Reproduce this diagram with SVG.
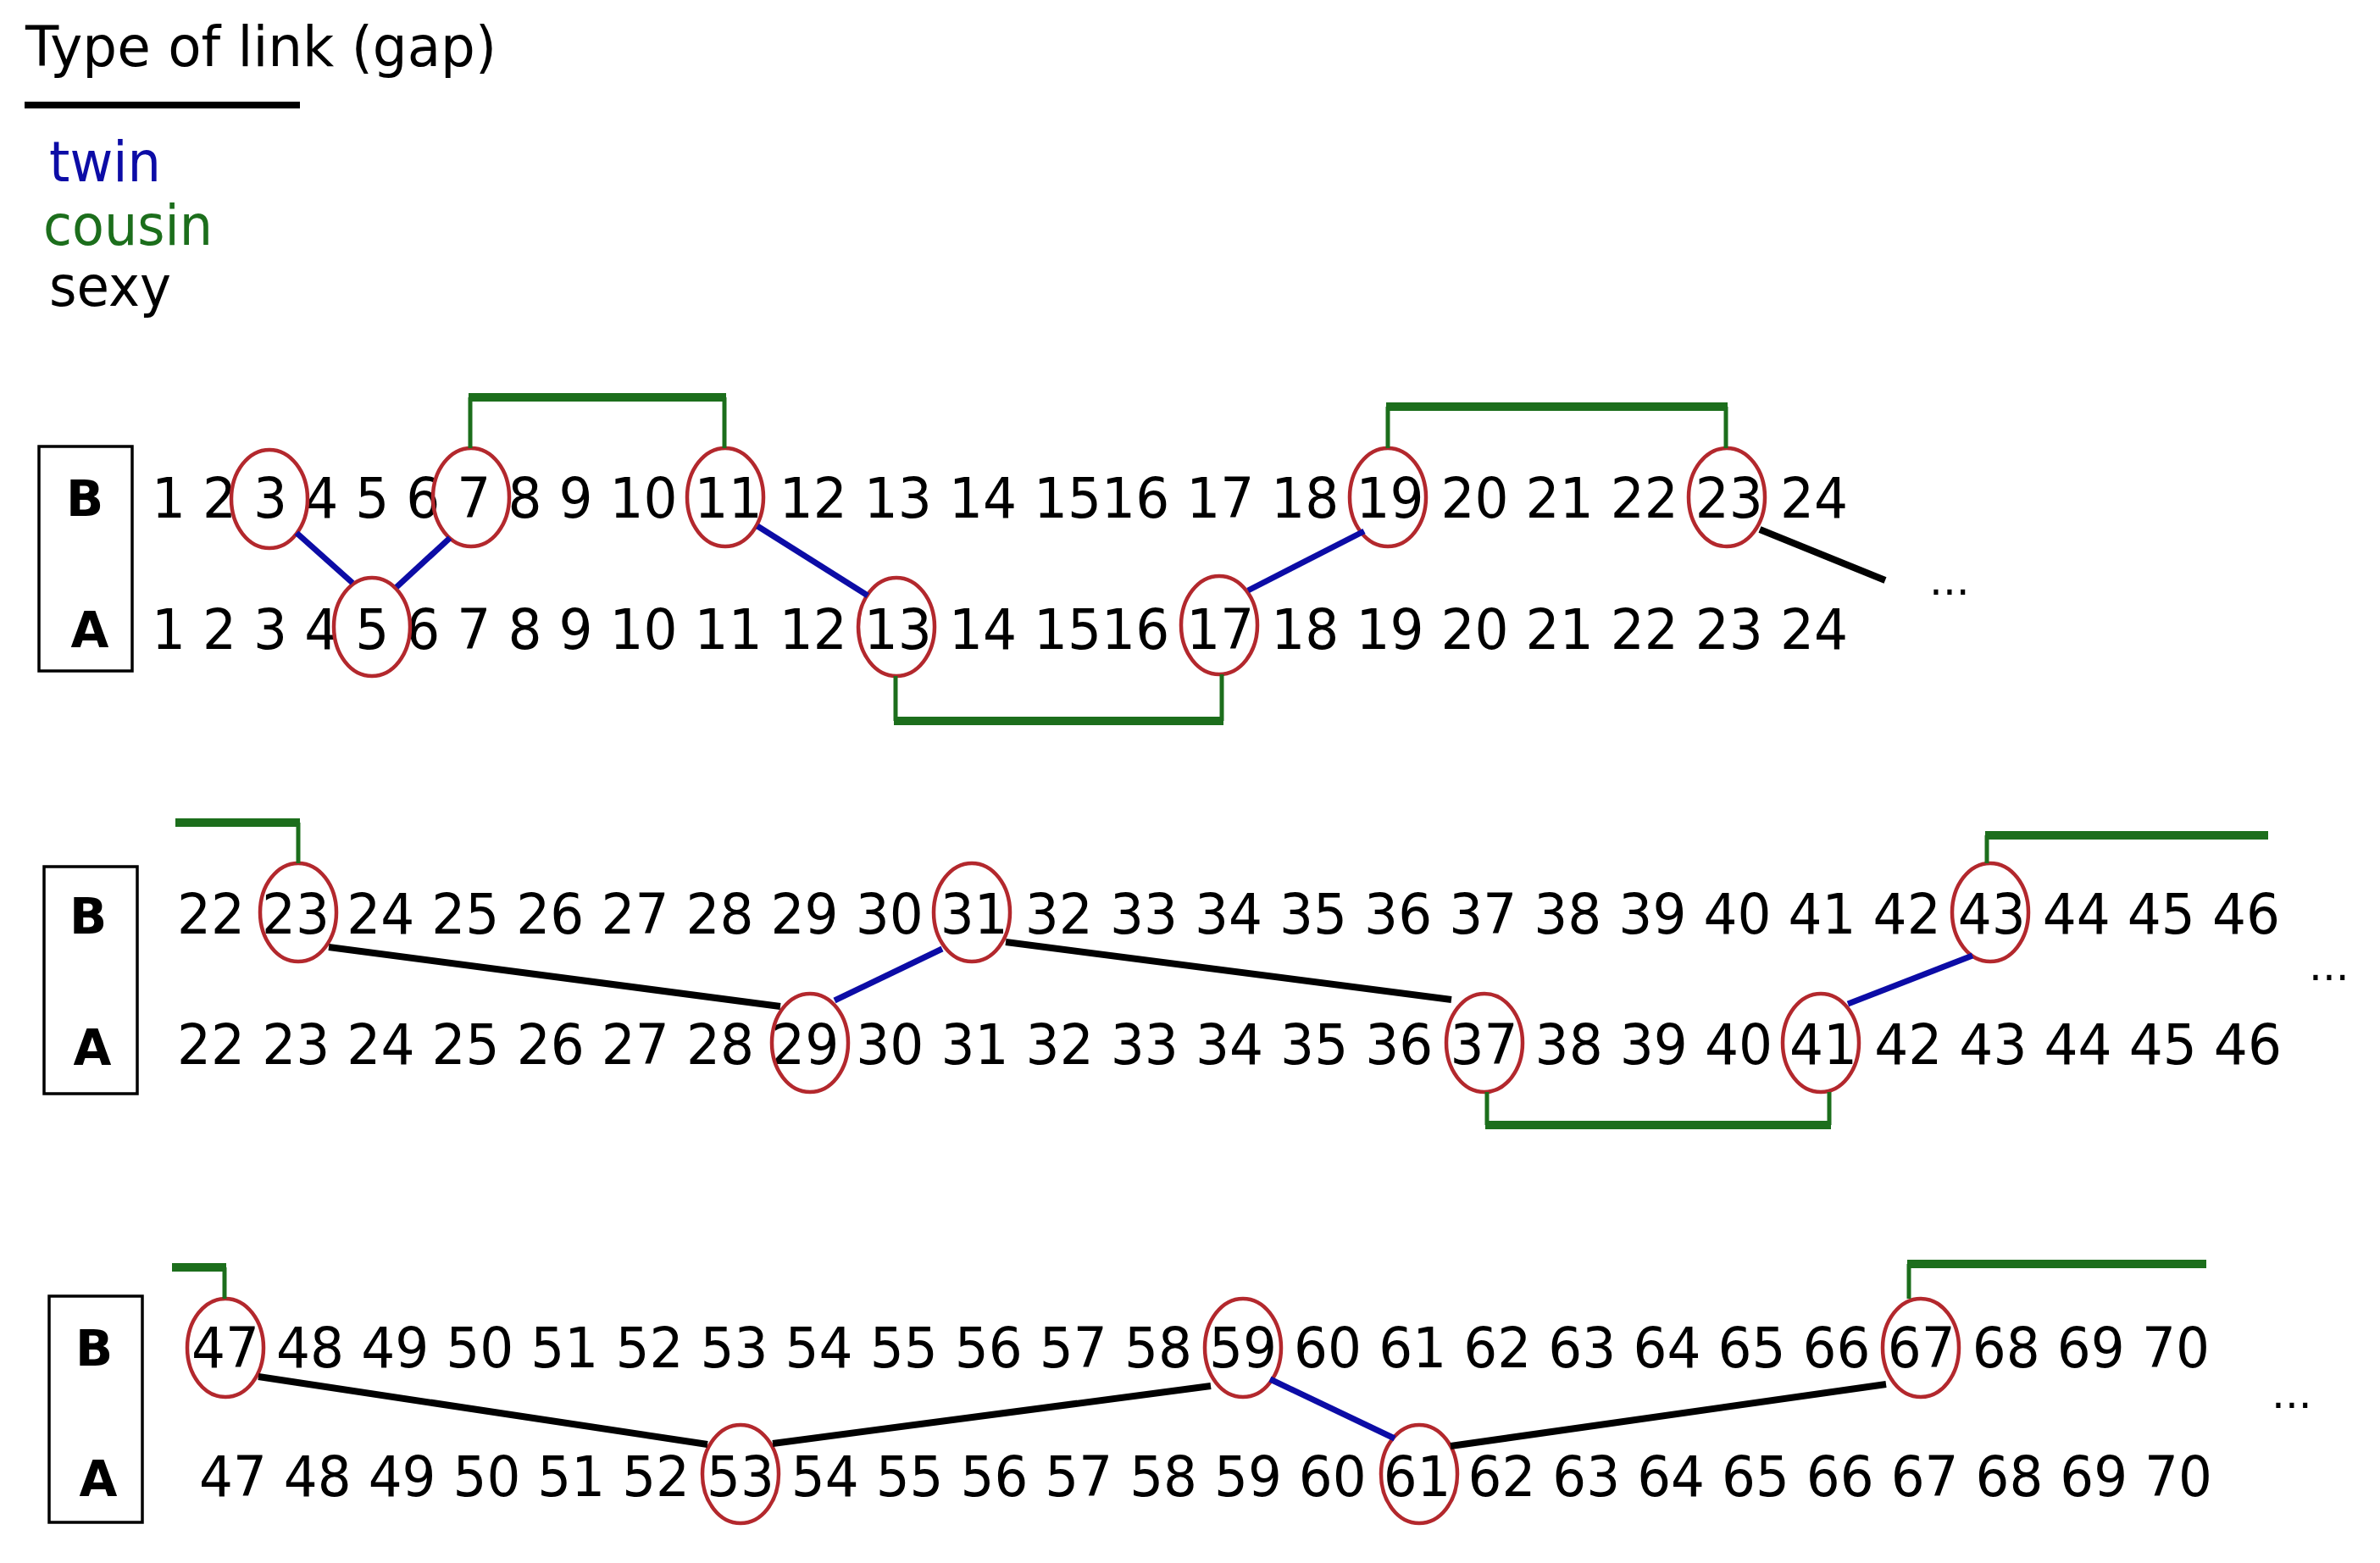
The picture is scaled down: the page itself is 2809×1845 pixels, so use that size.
<svg xmlns="http://www.w3.org/2000/svg" width="2809" height="1845" viewBox="0 0 2809 1845">
<style>
text{font-family:"DejaVu Sans","Liberation Sans",sans-serif;fill:#000}
.num{font-size:66px}
.lbl{font-size:58px;font-weight:bold;text-anchor:middle}
.leg{font-size:66px}
.dots{font-size:50px}
.box{fill:none;stroke:#000;stroke-width:3.5}
.ring{fill:none;stroke:#b3282d;stroke-width:4.5}
.tw{stroke:#0c0ca6;stroke-width:7;fill:none}
.sx{stroke:#000;stroke-width:8;fill:none}
.cv{stroke:#1c6e1c;stroke-width:5;fill:none}
.ch{stroke:#1c6e1c;stroke-width:10;fill:none}
</style>
<rect width="2809" height="1845" fill="#fff"/>
<g id="legend">
<text class="leg" x="30" y="78" textLength="556" lengthAdjust="spacingAndGlyphs">Type of link (gap)</text>
<line x1="29" y1="124" x2="354" y2="124" stroke="#000" stroke-width="8"/>
<text class="leg" x="58" y="214" textLength="132" lengthAdjust="spacingAndGlyphs" style="fill:#0c0ca6">twin</text>
<text class="leg" x="51" y="289" textLength="200" lengthAdjust="spacingAndGlyphs" style="fill:#1c6e1c">cousin</text>
<text class="leg" x="58" y="361" textLength="144" lengthAdjust="spacingAndGlyphs">sexy</text>
</g>
<g id="row1">
<rect class="box" x="46" y="527" width="110" height="265"/>
<text class="lbl" x="100" y="609">B</text>
<text class="lbl" x="106" y="764">A</text>
<text class="num" x="179" y="611" textLength="2002" lengthAdjust="spacingAndGlyphs">1 2 3 4 5 6 7 8 9 10 11 12 13 14 1516 17 18 19 20 21 22 23 24</text>
<text class="num" x="179" y="766" textLength="2002" lengthAdjust="spacingAndGlyphs">1 2 3 4 5 6 7 8 9 10 11 12 13 14 1516 17 18 19 20 21 22 23 24</text>
<text class="dots" x="2277" y="702">...</text>
</g>
<g id="row1-primes">
<ellipse id="b3" class="ring" cx="318" cy="589" rx="45" ry="58"/>
<ellipse id="b7" class="ring" cx="556" cy="587" rx="45" ry="58"/>
<ellipse id="b11" class="ring" cx="856" cy="587" rx="45" ry="58"/>
<ellipse id="b19" class="ring" cx="1638" cy="587" rx="45" ry="58"/>
<ellipse id="b23" class="ring" cx="2038" cy="587" rx="45" ry="58"/>
<ellipse id="a5" class="ring" cx="439" cy="740" rx="45" ry="58"/>
<ellipse id="a13" class="ring" cx="1058" cy="740" rx="45" ry="58"/>
<ellipse id="a17" class="ring" cx="1439" cy="738" rx="45" ry="58"/>
</g>
<g id="row2">
<rect class="box" x="52" y="1023" width="110" height="268"/>
<text class="lbl" x="104" y="1102">B</text>
<text class="lbl" x="109" y="1257">A</text>
<text class="num" x="209" y="1102" textLength="2482" lengthAdjust="spacingAndGlyphs">22 23 24 25 26 27 28 29 30 31 32 33 34 35 36 37 38 39 40 41 42 43 44 45 46</text>
<text class="num" x="209" y="1256" textLength="2484" lengthAdjust="spacingAndGlyphs">22 23 24 25 26 27 28 29 30 31 32 33 34 35 36 37 38 39 40 41 42 43 44 45 46</text>
<text class="dots" x="2725" y="1157">...</text>
</g>
<g id="row2-primes">
<ellipse id="b23r2" class="ring" cx="352" cy="1077" rx="45" ry="58"/>
<ellipse id="b31" class="ring" cx="1147" cy="1077" rx="45" ry="58"/>
<ellipse id="b43" class="ring" cx="2349" cy="1077" rx="45" ry="58"/>
<ellipse id="a29" class="ring" cx="956" cy="1231" rx="45" ry="58"/>
<ellipse id="a37" class="ring" cx="1752" cy="1231" rx="45" ry="58"/>
<ellipse id="a41" class="ring" cx="2149" cy="1231" rx="45" ry="58"/>
</g>
<g id="row3">
<rect class="box" x="58" y="1530" width="110" height="267"/>
<text class="lbl" x="111" y="1612">B</text>
<text class="lbl" x="116" y="1766">A</text>
<text class="num" x="226" y="1614" textLength="2382" lengthAdjust="spacingAndGlyphs">47 48 49 50 51 52 53 54 55 56 57 58 59 60 61 62 63 64 65 66 67 68 69 70</text>
<text class="num" x="235" y="1766" textLength="2376" lengthAdjust="spacingAndGlyphs">47 48 49 50 51 52 53 54 55 56 57 58 59 60 61 62 63 64 65 66 67 68 69 70</text>
<text class="dots" x="2681" y="1662">...</text>
</g>
<g id="row3-primes">
<ellipse id="b47" class="ring" cx="266" cy="1591" rx="45" ry="58"/>
<ellipse id="b59" class="ring" cx="1467" cy="1591" rx="45" ry="58"/>
<ellipse id="b67" class="ring" cx="2267" cy="1591" rx="45" ry="58"/>
<ellipse id="a53" class="ring" cx="874" cy="1740" rx="45" ry="58"/>
<ellipse id="a61" class="ring" cx="1675" cy="1740" rx="45" ry="58"/>
</g>
<g id="connectors">
<path class="cv" d="M555,529 V469 M855,529 V469"/><line class="ch" x1="553" y1="469" x2="857" y2="469"/>
<line class="tw" x1="350" y1="629" x2="416" y2="688"/>
<line class="tw" x1="531" y1="635" x2="468" y2="693"/>
<line class="tw" x1="894" y1="621" x2="1024" y2="703"/>
<path class="cv" d="M1057,798 V851 M1442,796 V851"/><line class="ch" x1="1055" y1="851" x2="1444" y2="851"/>
<line class="tw" x1="1473" y1="697" x2="1610" y2="627"/>
<path class="cv" d="M1638,529 V480 M2037,529 V480"/><line class="ch" x1="1636" y1="480" x2="2039" y2="480"/>
<line class="sx" x1="2077" y1="625" x2="2225" y2="685"/>
<path class="cv" d="M352,1019 V971"/><line class="ch" x1="207" y1="971" x2="354" y2="971"/>
<line class="sx" x1="388" y1="1118" x2="921" y2="1188"/>
<line class="tw" x1="985" y1="1181" x2="1112" y2="1120"/>
<line class="sx" x1="1187" y1="1112" x2="1713" y2="1180"/>
<path class="cv" d="M1755,1289 V1328 M2159,1289 V1328"/><line class="ch" x1="1753" y1="1328" x2="2161" y2="1328"/>
<line class="tw" x1="2181" y1="1185" x2="2328" y2="1128"/>
<path class="cv" d="M2345,1019 V986"/><line class="ch" x1="2343" y1="986" x2="2677" y2="986"/>
<path class="cv" d="M265,1533 V1496"/><line class="ch" x1="203" y1="1496" x2="267" y2="1496"/>
<line class="sx" x1="305" y1="1625" x2="835" y2="1705"/>
<line class="sx" x1="912" y1="1704" x2="1429" y2="1636"/>
<line class="tw" x1="1499" y1="1628" x2="1646" y2="1698"/>
<line class="sx" x1="1712" y1="1707" x2="2226" y2="1634"/>
<path class="cv" d="M2253,1533 V1492"/><line class="ch" x1="2251" y1="1492" x2="2604" y2="1492"/>
</g>
</svg>
